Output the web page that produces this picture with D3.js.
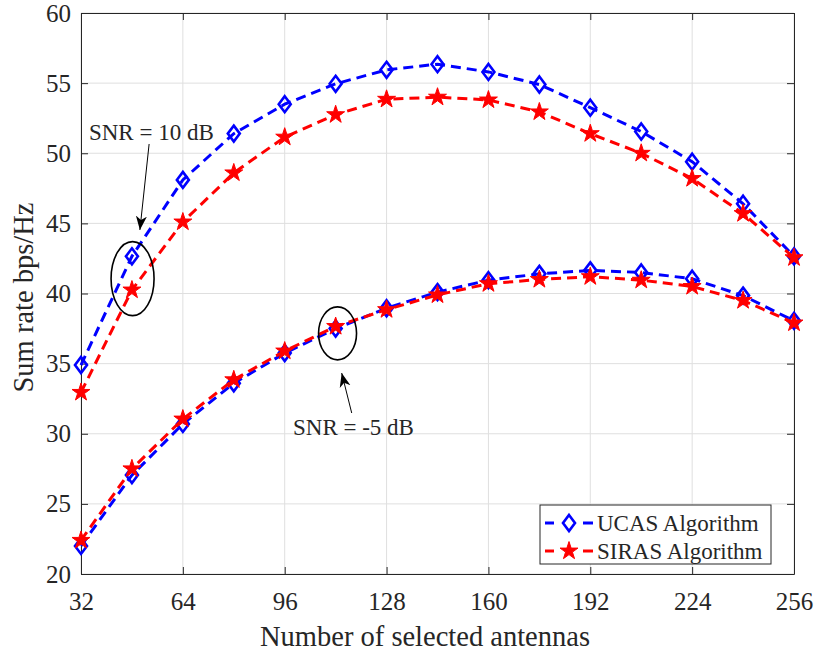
<!DOCTYPE html>
<html lang="en">
<head>
  <meta charset="UTF-8">
  <title>Sum rate vs selected antennas</title>
  <style>
body { margin: 0; background: #fff; }
svg text { font-family: "Liberation Serif", "Times New Roman", serif; fill: #262626; }
  </style>
</head>
<body>
  <div id="chart"></div>
  <script src="https://cdnjs.cloudflare.com/ajax/libs/d3/7.8.5/d3.min.js"></script>
  <script>
// antennas on the x axis
const antennas = [32, 48, 64, 80, 96, 112, 128, 144, 160, 176, 192, 208, 224, 240, 256];
// sum rate, SNR = 10 dB
const ucas10  = [34.9, 42.65, 48.1, 51.4, 53.5, 54.95, 55.95, 56.35, 55.8, 54.9, 53.25, 51.55, 49.4, 46.4, 42.65];
const siras10 = [32.95, 40.25, 45.1, 48.6, 51.15, 52.75, 53.85, 54.0, 53.8, 52.95, 51.4, 50.0, 48.2, 45.7, 42.55];
// sum rate, SNR = -5 dB
const ucasM5  = [22.0, 27.05, 30.7, 33.6, 35.75, 37.5, 38.95, 40.1, 40.95, 41.4, 41.65, 41.5, 41.05, 39.85, 38.05];
const sirasM5 = [22.4, 27.5, 31.05, 33.85, 35.9, 37.65, 38.85, 39.9, 40.7, 41.0, 41.2, 40.95, 40.5, 39.5, 37.9];

const xTicks = [32, 64, 96, 128, 160, 192, 224, 256];
const yTicks = [20, 25, 30, 35, 40, 45, 50, 55, 60];
const legendNames = ["UCAS Algorithm", "SIRAS Algorithm"];

const width = 817, height = 653;
const margin = {top: 13, right: 23, bottom: 79, left: 81};

const svg = d3.select("#chart").append("svg")
  .attr("width", width)
  .attr("height", height);

const x = d3.scaleLinear().domain([32, 256]).range([margin.left, width - margin.right]);
const y = d3.scaleLinear().domain([20, 60]).range([height - margin.bottom, margin.top]);

const axisColor = "#262626";
const tickLen = 7;

// grid
const grid = svg.append("g");
grid.selectAll(".gx").data(xTicks).join("line")
  .attr("x1", d => x(d)).attr("x2", d => x(d))
  .attr("y1", y(20)).attr("y2", y(60))
  .attr("stroke", "#dfdfdf").attr("stroke-width", 1);
grid.selectAll(".gy").data(yTicks).join("line")
  .attr("x1", x(32)).attr("x2", x(256))
  .attr("y1", d => y(d)).attr("y2", d => y(d))
  .attr("stroke", "#dfdfdf").attr("stroke-width", 1);

// axes (inward ticks on all sides, MATLAB-style box)
const fmt = d3.format("d");
svg.append("g")
  .attr("transform", `translate(0,${y(20)})`)
  .call(d3.axisBottom(x).tickValues(xTicks).tickFormat(fmt).tickSizeInner(-tickLen).tickSizeOuter(0).tickPadding(18))
  .call(g => g.selectAll("text").style("font-size", "25px").attr("fill", axisColor));
svg.append("g")
  .attr("transform", `translate(0,${y(60)})`)
  .call(d3.axisTop(x).tickValues(xTicks).tickFormat("").tickSizeInner(-tickLen).tickSizeOuter(0));
svg.append("g")
  .attr("transform", `translate(${x(32)},0)`)
  .call(d3.axisLeft(y).tickValues(yTicks).tickFormat(fmt).tickSizeInner(-tickLen).tickSizeOuter(0).tickPadding(10))
  .call(g => g.selectAll("text").style("font-size", "25px").attr("fill", axisColor));
svg.append("g")
  .attr("transform", `translate(${x(256)},0)`)
  .call(d3.axisRight(y).tickValues(yTicks).tickFormat("").tickSizeInner(-tickLen).tickSizeOuter(0));
svg.selectAll(".domain").attr("stroke", axisColor);
svg.selectAll(".tick line").attr("stroke", axisColor);
svg.selectAll(".tick text").attr("font-family", null);

// axis labels
svg.append("text")
  .attr("x", 425).attr("y", 646)
  .attr("text-anchor", "middle")
  .style("font-size", "28.5px")
  .text("Number of selected antennas");
svg.append("text")
  .attr("transform", `translate(33,${(y(20) + y(60)) / 2 + 4}) rotate(-90)`)
  .attr("text-anchor", "middle")
  .style("font-size", "28.5px")
  .text("Sum rate bps/Hz");

// series
const line = d3.line().x((d, i) => x(antennas[i])).y(d => y(d));
const diamond = "M0,-8L6,0L0,8L-6,0Z";
const star = d3.symbol(d3.symbolStar, 100)();

function drawSeries(vals, color, kind) {
  const g = svg.append("g");
  g.append("path")
    .attr("d", line(vals))
    .attr("fill", "none")
    .attr("stroke", color)
    .attr("stroke-width", 3)
    .attr("stroke-dasharray", "10,6");
  g.selectAll(".m").data(vals).join("path")
    .attr("transform", (d, i) => `translate(${x(antennas[i])},${y(d)})`)
    .attr("d", kind === "diamond" ? diamond : star)
    .attr("fill", kind === "diamond" ? "none" : color)
    .attr("stroke", color)
    .attr("stroke-width", kind === "diamond" ? 2.6 : 1);
}
drawSeries(ucas10, "#0000ff", "diamond");
drawSeries(ucasM5, "#0000ff", "diamond");
drawSeries(siras10, "#ff0000", "star");
drawSeries(sirasM5, "#ff0000", "star");

// annotations
svg.append("defs").append("marker")
  .attr("id", "head")
  .attr("viewBox", "0 0 14 12")
  .attr("refX", 14).attr("refY", 6)
  .attr("markerWidth", 14).attr("markerHeight", 12)
  .attr("markerUnits", "userSpaceOnUse")
  .attr("orient", "auto")
  .append("path")
  .attr("d", "M0,0.5L14,6L0,11.5L4,6Z")
  .attr("fill", "#000");

const ann = svg.append("g");
ann.append("ellipse")
  .attr("cx", x(48.2)).attr("cy", y(41.06))
  .attr("rx", 21.5).attr("ry", 37)
  .attr("fill", "none").attr("stroke", "#000").attr("stroke-width", 1.6);
ann.append("ellipse")
  .attr("cx", x(112.6)).attr("cy", y(37.16))
  .attr("rx", 19).attr("ry", 26.5)
  .attr("fill", "none").attr("stroke", "#000").attr("stroke-width", 1.6);
ann.append("line")
  .attr("x1", x(53.4)).attr("y1", y(50.66))
  .attr("x2", x(50.5)).attr("y2", y(44.53))
  .attr("stroke", "#000").attr("stroke-width", 1)
  .attr("marker-end", "url(#head)");
ann.append("line")
  .attr("x1", x(117.05)).attr("y1", y(31.48))
  .attr("x2", x(113.9)).attr("y2", y(34.33))
  .attr("stroke", "#000").attr("stroke-width", 1)
  .attr("marker-end", "url(#head)");
ann.append("text")
  .attr("x", x(34.5)).attr("y", y(50.95))
  .style("font-size", "23px").attr("fill", "#000")
  .text("SNR = 10 dB");
ann.append("text")
  .attr("x", x(98.6)).attr("y", y(29.9))
  .style("font-size", "23px").attr("fill", "#000")
  .text("SNR = -5 dB");

// legend
const legend = svg.append("g").attr("transform", "translate(540,505)");
legend.append("rect")
  .attr("width", 231).attr("height", 59)
  .attr("fill", "#fff").attr("stroke", axisColor).attr("stroke-width", 1);
const items = [
  {name: legendNames[0], color: "#0000ff", kind: "diamond"},
  {name: legendNames[1], color: "#ff0000", kind: "star"}
];
const li = legend.selectAll(".li").data(items).join("g")
  .attr("transform", (d, i) => `translate(0,${18 + i * 28})`);
li.append("line").attr("x1", 5).attr("x2", 14)
  .attr("stroke", d => d.color).attr("stroke-width", 3);
li.append("line").attr("x1", 43).attr("x2", 53)
  .attr("stroke", d => d.color).attr("stroke-width", 3);
li.append("path")
  .attr("transform", "translate(29,0)")
  .attr("d", d => d.kind === "diamond" ? diamond : star)
  .attr("fill", d => d.kind === "diamond" ? "none" : d.color)
  .attr("stroke", d => d.color)
  .attr("stroke-width", d => d.kind === "diamond" ? 2.6 : 1);
li.append("text")
  .attr("x", 57).attr("y", 7.5)
  .style("font-size", "23px").attr("fill", "#000")
  .text(d => d.name);
  </script>
</body>
</html>
